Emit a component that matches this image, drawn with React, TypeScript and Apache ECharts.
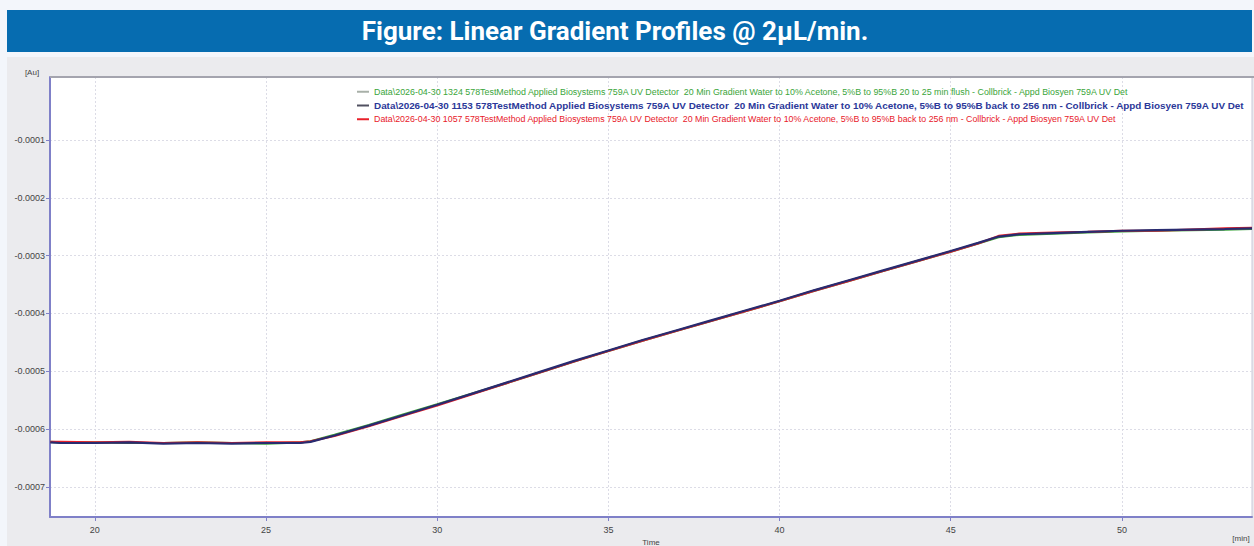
import React, { useEffect, useRef } from "react";
import * as echarts from "echarts";

const titleText = "Figure: Linear Gradient Profiles @ 2μL/min.";

const times = [18.7, 19, 20, 21, 22, 23, 24, 25, 26, 26.3, 27, 28, 29, 30, 31, 32, 33, 34, 35, 36, 37, 38, 39, 40, 41, 42, 43, 44, 45, 45.8, 46.4, 47, 48, 49, 50, 51, 52, 53, 53.8];

const blueVals = [-0.000623, -0.000624, -0.000624, -0.000623, -0.000625, -0.000624, -0.000625, -0.000624, -0.000624, -0.000622, -0.000611, -0.000594, -0.000576, -0.000558, -0.000539, -0.00052, -0.000501, -0.000482, -0.000464, -0.000446, -0.000429, -0.000412, -0.000395, -0.000378, -0.00036, -0.000343, -0.000326, -0.000309, -0.000292, -0.000278, -0.000267, -0.000263, -0.000261, -0.000259, -0.000257, -0.000256, -0.000255, -0.000254, -0.000253];
const greenVals = [-0.000622, -0.000623, -0.000623, -0.000624, -0.000624, -0.000623, -0.000624, -0.000625, -0.000623, -0.000621, -0.00061, -0.000593, -0.000575, -0.000557, -0.000539, -0.000521, -0.000502, -0.000483, -0.000465, -0.000447, -0.00043, -0.000413, -0.000396, -0.000379, -0.000361, -0.000344, -0.000327, -0.00031, -0.000293, -0.000279, -0.000268, -0.000264, -0.000262, -0.00026, -0.000258, -0.000257, -0.000256, -0.000255, -0.000254];
const redVals = [-0.000622, -0.000622, -0.000623, -0.000622, -0.000624, -0.000623, -0.000624, -0.000623, -0.000623, -0.000621, -0.000612, -0.000595, -0.000577, -0.000559, -0.00054, -0.000521, -0.000502, -0.000483, -0.000465, -0.000447, -0.00043, -0.000413, -0.000396, -0.000379, -0.000361, -0.000344, -0.000327, -0.00031, -0.000293, -0.000279, -0.000266, -0.000262, -0.00026, -0.000259, -0.000257, -0.000257, -0.000255, -0.000253, -0.000252];

const xTicks = [20, 25, 30, 35, 40, 45, 50];
const yTicks = [-0.0007, -0.0006, -0.0005, -0.0004, -0.0003, -0.0002, -0.0001];

const seriesNames = [
  "Data\\2026-04-30 1324 578TestMethod Applied Biosystems 759A UV Detector  20 Min Gradient Water to 10% Acetone, 5%B to 95%B 20 to 25 min flush - Collbrick - Appd Biosyen 759A UV Det",
  "Data\\2026-04-30 1153 578TestMethod Applied Biosystems 759A UV Detector  20 Min Gradient Water to 10% Acetone, 5%B to 95%B back to 256 nm - Collbrick - Appd Biosyen 759A UV Det",
  "Data\\2026-04-30 1057 578TestMethod Applied Biosystems 759A UV Detector  20 Min Gradient Water to 10% Acetone, 5%B to 95%B back to 256 nm - Collbrick - Appd Biosyen 759A UV Det",
];

const toPairs = (vals: number[]) => times.map((t, i) => [t, vals[i]]);

export default function App() {
  const ref = useRef<HTMLDivElement>(null);
  useEffect(() => {
    if (!ref.current) return;
    const chart = echarts.init(ref.current, null, { renderer: "svg" });
    const axisFont = "Liberation Sans";
    chart.setOption({
      animation: false,
      backgroundColor: "#f3f6fb",
      graphic: [
        { type: "rect", shape: { x: 7, y: 10, width: 1245, height: 42 }, style: { fill: "#066cb0" }, z: 0 },
        {
          type: "text", x: 615, y: 31,
          style: { text: titleText, fill: "#ffffff", font: "bold 26px Roboto", textAlign: "center", textVerticalAlign: "middle" },
          z: 1,
        },
        { type: "rect", shape: { x: 7, y: 57, width: 1247, height: 489 }, style: { fill: "#ebebee" }, z: -10 },
        { type: "line", shape: { x1: 50, y1: 77, x2: 1254, y2: 77 }, style: { stroke: "#a4a4ae", lineWidth: 2 }, z: 10 },
        { type: "text", x: 32, y: 72, style: { text: "[Au]", fill: "#444", font: "8px " + axisFont, textAlign: "center", textVerticalAlign: "middle" } },
        { type: "text", x: 1241, y: 538, style: { text: "[min]", fill: "#444", font: "8px " + axisFont, textAlign: "center", textVerticalAlign: "middle" } },
      ],
      grid: {
        left: 50, top: 77, right: 2, bottom: 29,
        outerBoundsMode: "none",
        containLabel: false,
        show: true, backgroundColor: "#ffffff", borderColor: "#c8c8d8", borderWidth: 1,
      },
      legend: {
        orient: "vertical",
        left: 357,
        top: 87,
        itemWidth: 12,
        itemHeight: 2,
        itemGap: 4,
        icon: "rect",
        padding: 0,
        data: [
          { name: seriesNames[0], itemStyle: { color: "#a8b0a8" }, textStyle: { color: "#3aa53a", fontSize: 8.9, fontFamily: axisFont, lineHeight: 9.5 } },
          { name: seriesNames[1], itemStyle: { color: "#505060" }, textStyle: { color: "#2b3899", fontSize: 9.9, fontWeight: "bold", fontFamily: axisFont, lineHeight: 9.5 } },
          { name: seriesNames[2], itemStyle: { color: "#e8202a" }, textStyle: { color: "#e8202a", fontSize: 8.85, fontFamily: axisFont, lineHeight: 9.5 } },
        ],
      },
      xAxis: {
        type: "value",
        min: 18.69,
        max: 53.8,
        name: "Time",
        nameLocation: "middle",
        nameGap: 21,
        nameTextStyle: { color: "#444", fontSize: 8, fontFamily: axisFont },
        axisLine: { show: true, onZero: false, lineStyle: { color: "#7f80c8", width: 2 } },
        axisTick: { show: true, customValues: xTicks, length: 4, lineStyle: { color: "#7f80c8" } },
        axisLabel: { customValues: xTicks, color: "#444", fontSize: 9, fontFamily: axisFont, margin: 8 },
        splitLine: { show: true, lineStyle: { color: "#dcdce6", type: [2, 2], width: 1 } },
      },
      yAxis: {
        type: "value",
        min: -0.000752,
        max: 0.0000089,
        axisLine: { show: true, onZero: false, lineStyle: { color: "#7f80c8", width: 2 } },
        axisTick: { show: true, customValues: yTicks, length: 4, lineStyle: { color: "#7f80c8" } },
        axisLabel: {
          customValues: yTicks, color: "#444", fontSize: 9, fontFamily: axisFont, margin: 5,
          formatter: (v: number) => v.toFixed(4),
        },
        splitLine: { show: true, lineStyle: { color: "#dcdce6", type: [2, 2], width: 1 } },
      },
      series: [
        { name: seriesNames[0], type: "line", data: toPairs(greenVals), showSymbol: false, lineStyle: { color: "#3aa53a", width: 2.2 }, itemStyle: { color: "#a8b0a8" }, z: 2 },
        { name: seriesNames[2], type: "line", data: toPairs(redVals), showSymbol: false, lineStyle: { color: "#e8202a", width: 2.2 }, itemStyle: { color: "#e8202a" }, z: 3 },
        { name: seriesNames[1], type: "line", data: toPairs(blueVals), showSymbol: false, lineStyle: { color: "#282b70", width: 2.2 }, itemStyle: { color: "#505060" }, z: 4 },
      ],
    });
    return () => chart.dispose();
  }, []);
  return <div ref={ref} style={{ position: "absolute", left: 0, top: 0, width: 1254, height: 546 }} />;
}
